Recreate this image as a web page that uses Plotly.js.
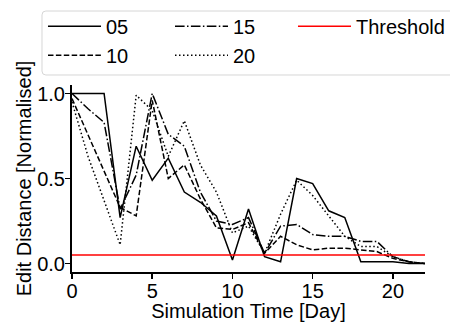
<!DOCTYPE html>
<html>
<head>
<meta charset="utf-8">
<script src="https://cdn.plot.ly/plotly-3.0.1.min.js"></script>
<style>html,body{margin:0;padding:0;background:#fff;}#chart{width:450px;height:322px;}</style>
</head>
<body>
<div id="chart"></div>
<script>
const days = [0,1,2,3,4,5,6,7,8,9,10,11,12,13,14,15,16,17,18,19,20,21,22];
const s05 = [1.00,1.00,1.00,0.27,0.69,0.49,0.62,0.42,0.36,0.28,0.02,0.32,0.04,0.01,0.50,0.47,0.31,0.27,0.01,0.01,0.01,0.00,0.00];
const s10 = [0.97,0.76,0.55,0.33,0.28,0.96,0.50,0.58,0.38,0.21,0.20,0.24,0.06,0.16,0.11,0.08,0.09,0.09,0.08,0.07,0.03,0.01,0.00];
const s15 = [1.00,0.91,0.83,0.32,0.52,1.00,0.76,0.69,0.42,0.25,0.23,0.27,0.06,0.22,0.23,0.17,0.16,0.16,0.13,0.13,0.04,0.01,0.00];
const s20 = [0.95,0.63,0.37,0.11,0.99,0.90,0.63,0.84,0.58,0.42,0.18,0.22,0.06,0.29,0.49,0.40,0.28,0.16,0.10,0.10,0.04,0.01,0.00];
const seriesNames = ['05','10','15','20'];
const thresholdValue = 0.05;
const thresholdX = [0, 22];
const xTicks = [0,5,10,15,20];
const yTicks = [0,0.5,1];
const yTickLabels = ['0.0','0.5','1.0'];

const font = 'Liberation Sans, Arial, sans-serif';
const dashes = ['solid','5.5px,2.4px','9.6px,2.4px,1.5px,2.4px','1.5px,2.5px'];
const legendOf = ['legend','legend','legend2','legend2'];
const data = [s05,s10,s15,s20].map((ys,i)=>({
  x: days, y: ys, name: seriesNames[i], type:'scatter', mode:'lines',
  line:{color:'#000', width:1.5, dash:dashes[i]}, legend: legendOf[i]
}));
data.push({x: thresholdX, y: thresholdX.map(()=>thresholdValue), name:'Threshold', type:'scatter', mode:'lines',
  line:{color:'#ff0000', width:1.5}, legend:'legend3'});

function leg(xp){
  return {orientation:'v', x:xp, xanchor:'left', y:1.418, yanchor:'top', traceorder:'normal',
    borderwidth:0, bgcolor:'rgba(0,0,0,0)', font:{family:font, size:20, color:'#000'},
    itemwidth:53, tracegroupgap:0};
}
// legend frame (rounded rectangle) in paper coordinates
const x0=-0.085, x1=1.11, y0=1.0535, y1=1.3957, rx=0.011, ry=0.021;
const framePath = `M${x0+rx},${y1} L${x1-rx},${y1} Q${x1},${y1} ${x1},${y1-ry} L${x1},${y0+ry} Q${x1},${y0} ${x1-rx},${y0} L${x0+rx},${y0} Q${x0},${y0} ${x0},${y0+ry} L${x0},${y1-ry} Q${x0},${y1} ${x0+rx},${y1} Z`;

const layout = {
  width:450, height:322,
  margin:{l:72, r:25, t:85, b:50, autoexpand:false},
  paper_bgcolor:'#fff', plot_bgcolor:'#fff',
  font:{family:font, size:20, color:'#000'},
  showlegend:true,
  legend: leg(-0.0822),
  legend2: leg(0.2776),
  legend3: leg(0.626),
  shapes:[{type:'path', xref:'paper', yref:'paper', path:framePath, line:{color:'#d6d6d6', width:1}, layer:'below'}],
  xaxis:{range:[0,22], tickvals:xTicks, ticks:'outside', ticklen:5, tickwidth:1.5, tickcolor:'#000',
    showline:true, linecolor:'#000', linewidth:2, showgrid:false, zeroline:false, ticklabelstandoff:-5,
    automargin:false,
    tickfont:{family:font, size:20}, title:{text:'Simulation Time [Day]', font:{family:font, size:20}, standoff:0}},
  yaxis:{range:[-0.05,1.05], tickvals:yTicks, ticktext:yTickLabels, ticks:'outside', ticklen:5, tickwidth:1.5, tickcolor:'#000',
    showline:true, linecolor:'#000', linewidth:2, showgrid:false, zeroline:false, ticklabelstandoff:-4,
    automargin:false,
    tickfont:{family:font, size:20}, title:{text:'Edit Distance [Normalised]', font:{family:font, size:20}, standoff:0}}
};
Plotly.newPlot('chart', data, layout, {staticPlot:true, displayModeBar:false});
</script>
</body>
</html>
